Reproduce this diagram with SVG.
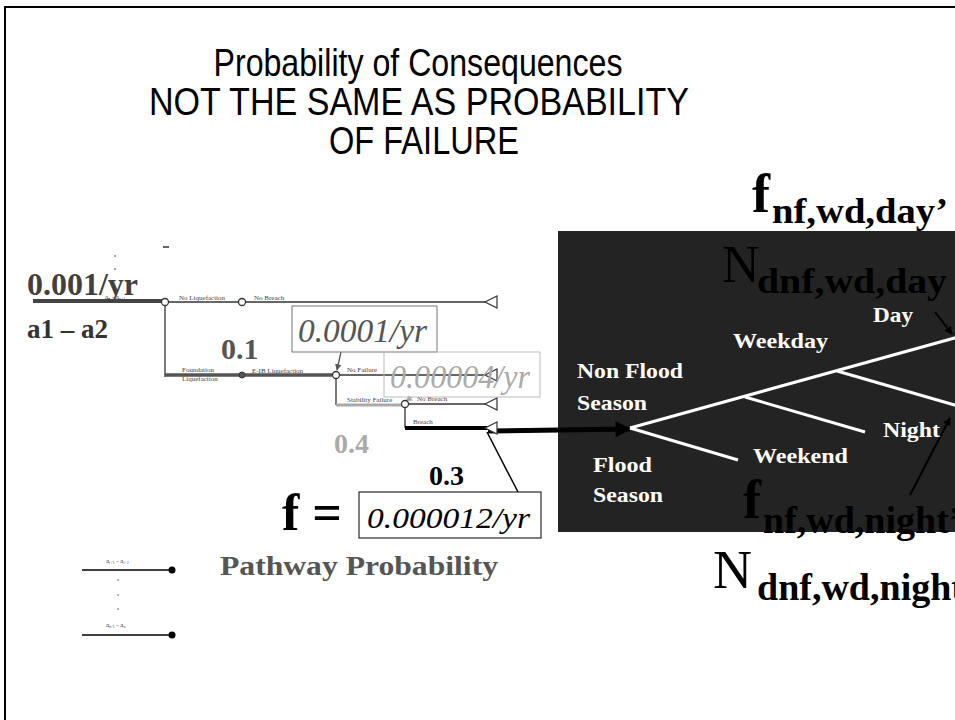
<svg xmlns="http://www.w3.org/2000/svg" width="955" height="720" viewBox="0 0 955 720">
<defs>
<style>
.title{font-family:"Liberation Sans",Arial,sans-serif;font-size:39px;fill:#000;text-anchor:middle}
.tb{font-family:"Liberation Serif","Times New Roman",serif;font-weight:bold}
.ti{font-family:"Liberation Serif","Times New Roman",serif;font-style:italic}
.tr{font-family:"Liberation Serif","Times New Roman",serif}
.tiny{font-family:"Liberation Serif","Times New Roman",serif;font-size:7px;fill:#444}
.wt{font-family:"Liberation Serif","Times New Roman",serif;font-weight:bold;font-size:22px;fill:#fff}
.br{stroke:#333;stroke-width:1.3;fill:none}
.tri{stroke:#333;stroke-width:1.2;fill:#fff}
.node{stroke:#333;stroke-width:1.3;fill:#fff}
</style>
<marker id="ah" viewBox="0 0 10 10" refX="9" refY="5" markerWidth="4" markerHeight="4" orient="auto" markerUnits="strokeWidth"><path d="M0,0 L10,5 L0,10 Z" fill="#000"/></marker>
<marker id="ahBig" viewBox="0 0 10 10" refX="9" refY="5" markerWidth="4" markerHeight="3.2" orient="auto" markerUnits="strokeWidth"><path d="M0,0 L10,5 L0,10 Z" fill="#000"/></marker>
<marker id="ahGray" viewBox="0 0 10 10" refX="9" refY="5" markerWidth="5" markerHeight="5" orient="auto" markerUnits="strokeWidth"><path d="M0,0 L10,5 L0,10 Z" fill="#555"/></marker>
<marker id="ahLGray" viewBox="0 0 10 10" refX="9" refY="5" markerWidth="5" markerHeight="5" orient="auto" markerUnits="strokeWidth"><path d="M0,0 L10,5 L0,10 Z" fill="#aaa"/></marker>
</defs>
<rect x="0" y="0" width="955" height="720" fill="#fff"/>
<rect x="5" y="7" width="1000" height="1000" fill="none" stroke="#000" stroke-width="2"/>

<g id="title">
<text class="title" x="418" y="76" textLength="409" lengthAdjust="spacingAndGlyphs">Probability of Consequences</text>
<text class="title" x="419" y="115" textLength="540" lengthAdjust="spacingAndGlyphs">NOT THE SAME AS PROBABILITY</text>
<text class="title" x="424" y="154" textLength="190" lengthAdjust="spacingAndGlyphs">OF FAILURE</text>
</g>

<g id="consequence-panel">
<rect x="558" y="231" width="400" height="301" fill="#232323"/>
</g>

<g id="connectors">
<line x1="33" y1="301" x2="165" y2="301" stroke="#444" stroke-width="4"/>
<line class="br" x1="165" y1="302" x2="485" y2="302"/>
<line class="br" x1="165" y1="302" x2="165" y2="377"/>
<line x1="165" y1="375" x2="336" y2="375" stroke="#555" stroke-width="3.5"/>
<line class="br" x1="336" y1="375" x2="485" y2="375"/>
<line class="br" x1="336" y1="375" x2="336" y2="405"/>
<line x1="336" y1="405" x2="405" y2="405" stroke="#aaa" stroke-width="3"/>
<line class="br" x1="405" y1="404" x2="485" y2="404"/>
<line class="br" x1="405" y1="404" x2="405" y2="428"/>
<line x1="405" y1="428" x2="492" y2="428" stroke="#000" stroke-width="4"/>
<line x1="488" y1="431" x2="630" y2="429" stroke="#000" stroke-width="5" marker-end="url(#ahBig)"/>
<line x1="341" y1="352" x2="337" y2="370" stroke="#555" stroke-width="1.3" marker-end="url(#ahGray)"/>
<line x1="412" y1="397" x2="406" y2="401" stroke="#aaa" stroke-width="1.3" marker-end="url(#ahLGray)"/>
<line x1="518" y1="492" x2="487" y2="432" stroke="#000" stroke-width="1.5"/>
<g stroke="#fff" stroke-width="3" fill="none">
<line x1="630" y1="428" x2="958" y2="337"/>
<line x1="745" y1="397" x2="865" y2="432"/>
<line x1="837" y1="371" x2="958" y2="406"/>
<line x1="630" y1="428" x2="738" y2="460"/>
</g>
<line x1="935" y1="312" x2="952" y2="334" stroke="#000" stroke-width="2" marker-end="url(#ah)"/>
<line x1="910" y1="495" x2="950" y2="418" stroke="#000" stroke-width="2" marker-end="url(#ah)"/>
<line x1="82" y1="570" x2="172" y2="570" stroke="#000" stroke-width="1.3"/>
<line x1="82" y1="635" x2="172" y2="635" stroke="#000" stroke-width="1.3"/>
</g>

<g id="end-triangles">
<polygon class="tri" points="485,302 497,296 497,308"/>
<polygon class="tri" points="485,375 497,369 497,381"/>
<polygon class="tri" points="485,404 497,398 497,410"/>
<polygon class="tri" points="485,428 497,422 497,434"/>
</g>

<g id="tree-nodes">
<circle class="node" cx="165" cy="302" r="3.5"/>
<circle class="node" cx="242" cy="302" r="3.5"/>
<circle cx="242" cy="375" r="3" fill="#555" stroke="#333"/>
<circle class="node" cx="336" cy="375" r="3.5"/>
<circle class="node" cx="405" cy="404" r="3.5"/>
</g>

<g id="rate-label">
<text class="tb" x="27" y="295" font-size="31" fill="#404040" textLength="111" lengthAdjust="spacingAndGlyphs">0.001/yr</text>
<text class="tiny" x="105" y="299" font-size="6">a<tspan font-size="4" dy="1">n</tspan><tspan dy="-1"> - a</tspan><tspan font-size="4" dy="1">n+1</tspan></text>
<circle cx="115" cy="256" r="0.8" fill="#333"/>
<circle cx="115" cy="269" r="0.8" fill="#333"/>
<line x1="163" y1="247" x2="169" y2="247" stroke="#000" stroke-width="1.2"/>
<text class="tb" x="27" y="338" font-size="27" fill="#333">a1 – a2</text>
</g>

<g id="tree-labels">
<text class="tiny" x="179" y="300">No Liquefaction</text>
<text class="tiny" x="254" y="300">No Breach</text>
<text class="tiny" x="182" y="372">Foundation</text>
<text class="tiny" x="182" y="381">Liquefaction</text>
<text class="tiny" x="252" y="373">E-IB Liquefaction</text>
<text class="tiny" x="347" y="372">No Failure</text>
<text class="tiny" x="347" y="402">Stability Failure</text>
<text class="tiny" x="417" y="401">No Breach</text>
<text class="tiny" x="413" y="424">Breach</text>
</g>

<g id="prob-01">
<text class="tb" x="221" y="359" font-size="30" fill="#555">0.1</text>
</g>
<g id="box-0.0001">
<rect x="292" y="306" width="145" height="46" fill="#fff" stroke="#777" stroke-width="1"/>
<text class="ti" x="298" y="342" font-size="33" fill="#555" textLength="129" lengthAdjust="spacingAndGlyphs">0.0001/yr</text>
</g>
<g id="box-0.00004">
<rect x="384" y="352" width="156" height="45" fill="none" stroke="#bbb" stroke-width="1"/>
<text class="ti" x="390" y="388" font-size="33" fill="#aaa" textLength="140" lengthAdjust="spacingAndGlyphs">0.00004/yr</text>
</g>
<g id="prob-04">
<text class="tb" x="334" y="453" font-size="28" fill="#aaa">0.4</text>
</g>
<g id="prob-03">
<text class="tb" x="429" y="485" font-size="28" fill="#000">0.3</text>
</g>
<g id="f-result">
<text class="tb" x="282" y="530" font-size="52" fill="#000">f =</text>
<rect x="359" y="492" width="182" height="46" fill="#fff" stroke="#000" stroke-width="1"/>
<text class="ti" x="367" y="528" font-size="29" fill="#000" textLength="163" lengthAdjust="spacingAndGlyphs">0.000012/yr</text>
</g>

<g id="legend">
<text class="tiny" x="106" y="563" font-size="6" fill="#666">a<tspan font-size="4" dy="1">i+1</tspan><tspan dy="-1"> - a</tspan><tspan font-size="4" dy="1">i+2</tspan></text>
<text class="tiny" x="106" y="627" font-size="6" fill="#666">a<tspan font-size="4" dy="1">n-1</tspan><tspan dy="-1"> - a</tspan><tspan font-size="4" dy="1">n</tspan></text>
<circle cx="172" cy="570" r="3.5" fill="#000"/>
<circle cx="172" cy="635" r="3.5" fill="#000"/>
<circle cx="118" cy="580" r="0.7" fill="#333"/>
<circle cx="118" cy="595" r="0.7" fill="#333"/>
<circle cx="118" cy="609" r="0.7" fill="#333"/>
<text class="tb" x="220" y="575" font-size="28" fill="#555" textLength="278" lengthAdjust="spacingAndGlyphs">Pathway Probability</text>
</g>

<g id="consequence-labels">
<text class="tb" x="752" y="212" font-size="54" fill="#000">f</text>
<text class="tb" x="772" y="223" font-size="36" fill="#000" textLength="176" lengthAdjust="spacingAndGlyphs">nf,wd,day’</text>
<text class="tr" x="722" y="282" font-size="52" fill="#000">N</text>
<text class="tb" x="757" y="293" font-size="36" fill="#000" textLength="190" lengthAdjust="spacingAndGlyphs">dnf,wd,day</text>
<text class="wt" x="873" y="322" textLength="40" lengthAdjust="spacingAndGlyphs">Day</text>
<text class="wt" x="733" y="348" textLength="95" lengthAdjust="spacingAndGlyphs">Weekday</text>
<text class="wt" x="577" y="378" textLength="106" lengthAdjust="spacingAndGlyphs">Non Flood</text>
<text class="wt" x="577" y="410" textLength="70" lengthAdjust="spacingAndGlyphs">Season</text>
<text class="wt" x="883" y="437" textLength="57" lengthAdjust="spacingAndGlyphs">Night</text>
<text class="wt" x="753" y="463" textLength="95" lengthAdjust="spacingAndGlyphs">Weekend</text>
<text class="wt" x="593" y="472" textLength="59" lengthAdjust="spacingAndGlyphs">Flood</text>
<text class="wt" x="593" y="502" textLength="70" lengthAdjust="spacingAndGlyphs">Season</text>
<text class="tb" x="743" y="518" font-size="54" fill="#000">f</text>
<text class="tb" x="763" y="533" font-size="38" fill="#000">nf,wd,night’</text>
<text class="tr" x="713" y="588" font-size="54" fill="#000">N</text>
<text class="tb" x="757" y="600" font-size="38" fill="#000">dnf,wd,night’</text>
</g>
</svg>
